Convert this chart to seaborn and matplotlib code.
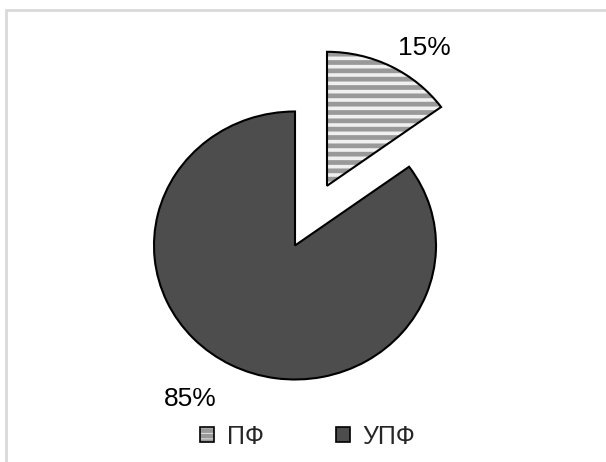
import matplotlib
matplotlib.use("Agg")
import numpy as np
import matplotlib.pyplot as plt
import seaborn as sns
from matplotlib.patches import Patch, Rectangle

labels = ["ПФ", "УПФ"]
shares = [15, 85]

sns.set_style("white")
plt.rcParams['font.family'] = ['Liberation Sans', 'DejaVu Sans']
plt.rcParams['hatch.linewidth'] = 3.4

fig = plt.figure(figsize=(6.06, 4.62), dpi=100)
ax = fig.add_axes([0, 0, 1, 1])

colors = ['#f0f0f0', '#4d4d4d']
explode = [0.5, 0]

# filled wedges (hatch drawn in grey), then black outlines on top
wedges, _, autotexts = ax.pie(
    shares, explode=explode, startangle=90, counterclock=False,
    colors=colors, autopct='%d%%', pctdistance=1.3,
    wedgeprops={'edgecolor': '#999999', 'linewidth': 0},
    textprops={'fontsize': 19, 'color': 'black'})
wedges[0].set_hatch('--')
wedges[0].set_edgecolor('#999999')
ax.pie(shares, explode=explode, startangle=90, counterclock=False,
       colors=['none', 'none'],
       wedgeprops={'edgecolor': 'black', 'linewidth': 1.5})

# nudge the percentage labels where the original puts them
lab_dist = [1.24, 1.37]
lab_turn = [7, 6]
for w, t, d, turn in zip(wedges, autotexts, lab_dist, lab_turn):
    mid = np.deg2rad((w.theta1 + w.theta2) / 2 - turn)
    cx, cy = w.center
    t.set_position((cx + d * np.cos(mid), cy + d * np.sin(mid)))

ax.set_xlim(-295 / 141, (606 - 295) / 141)
ax.set_ylim(-216.5 / 134, (462 - 216.5) / 134)
ax.set_aspect('auto')
ax.axis('off')

handles = [(Patch(facecolor=colors[0], edgecolor='#999999', hatch='---', linewidth=0),
            Patch(facecolor='none', edgecolor='black', linewidth=1.2)),
           Patch(facecolor=colors[1], edgecolor='black', linewidth=1.2)]
fig.legend(handles, labels, loc='lower center', bbox_to_anchor=(0.508, -0.02),
           ncol=2, frameon=False, fontsize=18, handlelength=0.55,
           handleheight=0.55, handletextpad=0.5, columnspacing=2.9)

# light frame on the chart area
fig.patches.append(Rectangle((6 / 606, -0.1), 1.2, 1.1 - 10 / 462,
                             transform=fig.transFigure, fill=False,
                             edgecolor='#d9d9d9', linewidth=2))

fig.savefig("out.png", dpi=100)
